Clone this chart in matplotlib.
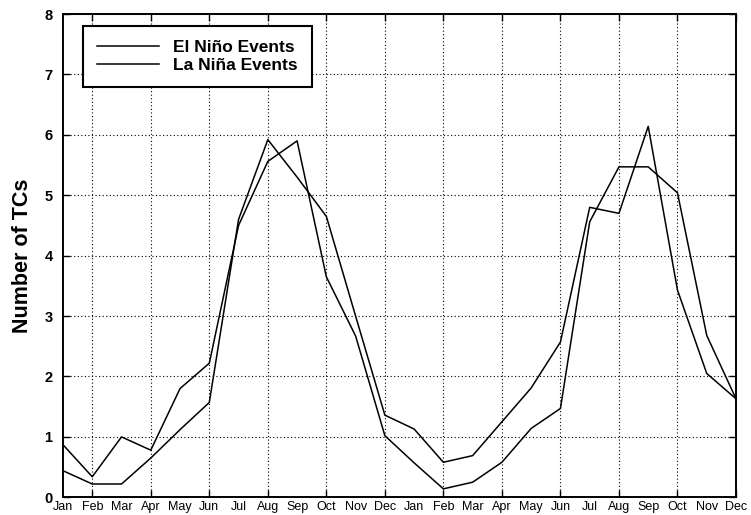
import matplotlib
matplotlib.use("Agg")
import matplotlib.pyplot as plt
import numpy as np

months = ["Jan", "Feb", "Mar", "Apr", "May", "Jun", "Jul", "Aug", "Sep", "Oct", "Nov", "Dec",
          "Jan", "Feb", "Mar", "Apr", "May", "Jun", "Jul", "Aug", "Sep", "Oct", "Nov", "Dec"]

el_nino = [0.87, 0.34, 1.00, 0.78, 1.80, 2.22, 4.50, 5.56, 5.90, 3.65, 2.67, 1.02,
           0.57, 0.14, 0.25, 0.58, 1.14, 1.47, 4.56, 5.47, 5.47, 5.04, 2.68, 1.63]
la_nina = [0.44, 0.22, 0.22, 0.65, 1.12, 1.57, 4.60, 5.92, 5.30, 4.65, 3.00, 1.36,
           1.13, 0.58, 0.69, 1.25, 1.81, 2.57, 4.80, 4.70, 6.14, 3.43, 2.05, 1.63]

yticks = [0, 1, 2, 3, 4, 5, 6, 7, 8]

plt.rcParams["font.family"] = ["Liberation Sans", "DejaVu Sans"]

fig = plt.figure(figsize=(7.51, 5.15), dpi=100)
ax = fig.add_axes([63 / 751, 1 - 497.3 / 515, 673 / 751, 483.3 / 515])

x = np.arange(len(months))
ax.plot(x, el_nino, color="black", lw=1.1, label="El Niño Events")
ax.plot(x, la_nina, color="black", lw=1.1, label="La Niña Events")

ax.set_xlim(0, len(months) - 1)
ax.set_ylim(0, 8)

# month labels on every month, grid/ticks every second month
ax.xaxis.remove_overlapping_locs = False
ax.set_xticks(x)
ax.set_xticklabels(months, fontsize=9.0)
ax.tick_params(axis="x", which="major", length=0, pad=2.5)
ax.set_xticks(x[1::2], minor=True)
ax.tick_params(axis="x", which="minor", direction="in", length=5, width=1,
               top=True, bottom=True)

ax.set_yticks(yticks)
ax.set_yticklabels([str(v) for v in yticks], fontsize=10.5, fontweight="bold")
ax.tick_params(axis="y", which="major", direction="in", length=5, width=1,
               left=True, right=True, pad=7.5)

grid_kw = dict(color="black", linestyle=(0, (1, 2.2)), linewidth=0.8)
ax.grid(axis="x", which="minor", **grid_kw)
ax.grid(axis="x", which="major", visible=False)
ax.grid(axis="y", which="major", **grid_kw)

for s in ax.spines.values():
    s.set_linewidth(1.4)

ax.set_ylabel("Number of TCs", fontsize=15.5, fontweight="bold", labelpad=8)

leg = ax.legend(loc="upper left", bbox_to_anchor=(20 / 673, 1 - 12 / 483.3),
                borderaxespad=0, fancybox=False, framealpha=1, edgecolor="black",
                prop={"weight": "bold", "size": 12.5}, handlelength=3.6,
                handletextpad=0.8, labelspacing=0.15, borderpad=0.8)
leg.get_frame().set_linewidth(1.5)
leg.set_zorder(5)

fig.savefig("out.png", dpi=100)
